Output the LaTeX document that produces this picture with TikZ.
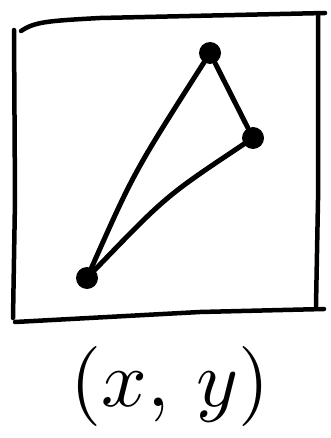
\documentclass[tikz,border=0pt]{standalone}
\usepackage{tikz}
\usetikzlibrary{positioning}
\tikzset{
  frame/.style={line width=4.5pt, line cap=round, line join=round},
  edge/.style={line width=5pt, line cap=round},
  dot/.style={circle, fill=black, inner sep=0pt, minimum size=22pt},
  label/.style={inner sep=0pt}
}
\begin{document}
\begin{tikzpicture}[x=1pt, y=-1pt]
  \useasboundingbox (0,0) rectangle (331,438);
  % hand drawn frame
  \draw[frame] (21,31) .. controls (35,22) and (45,21) .. (100,18) -- (325,13);
  \draw[frame] (14,30) -- (15,200) -- (13,318);
  \draw[frame] (318,14) -- (318,200) -- (316,306);
  \draw[frame] (15,322) -- (200,312) -- (324,309);
  % points
  \node[dot] (top) at (210,53) {};
  \node[dot] (right) at (253,138) {};
  \node[dot] (low) at (87,278) {};
  \draw[edge] (low) .. controls (134,172) .. (top);
  \draw[edge] (top) -- (right);
  \draw[edge] (right) .. controls (166,196) .. (low);
  \node[label] (coord) at (170,386) {\scalebox{8}{$(x,\,y)$}};
\end{tikzpicture}
\end{document}
